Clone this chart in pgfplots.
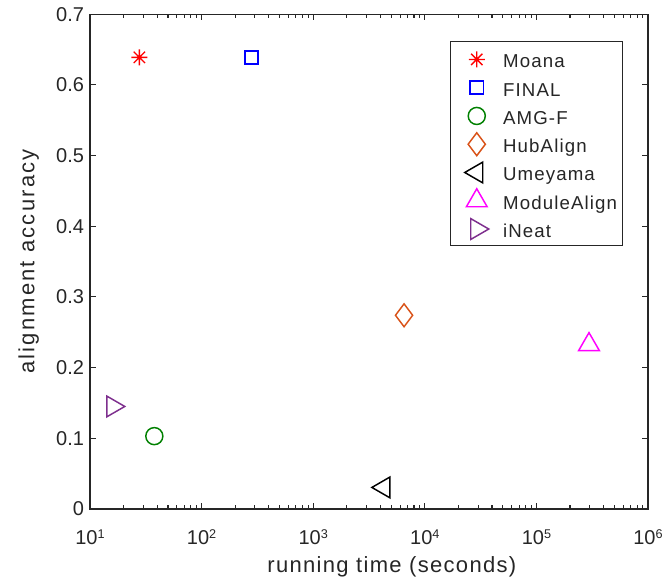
\documentclass[border=0pt]{standalone}
\usepackage{fontspec}
\setmainfont{Liberation Sans}
\newfontfamily\xlabfont[LetterSpace=6]{Liberation Sans}
\newfontfamily\ylabfont[LetterSpace=10]{Liberation Sans}
\newfontfamily\legfont[LetterSpace=6]{Liberation Sans}
\usepackage{pgfplots}
\pgfplotsset{compat=1.18}
\usetikzlibrary{calc}

\definecolor{hubc}{rgb}{0.85,0.325,0.098}
\definecolor{ineatc}{rgb}{0.494,0.184,0.556}
\definecolor{amgc}{rgb}{0,0.5,0}
\definecolor{modc}{rgb}{1,0,1}
\definecolor{axc}{rgb}{0.15,0.15,0.15}

% MATLAB-like asterisk with eight rays
\pgfdeclareplotmark{star8}{%
  \pgfpathmoveto{\pgfpoint{0pt}{\pgfplotmarksize}}\pgfpathlineto{\pgfpoint{0pt}{-\pgfplotmarksize}}%
  \pgfpathmoveto{\pgfpoint{\pgfplotmarksize}{0pt}}\pgfpathlineto{\pgfpoint{-\pgfplotmarksize}{0pt}}%
  \pgfpathmoveto{\pgfpoint{0.707\pgfplotmarksize}{0.707\pgfplotmarksize}}\pgfpathlineto{\pgfpoint{-0.707\pgfplotmarksize}{-0.707\pgfplotmarksize}}%
  \pgfpathmoveto{\pgfpoint{0.707\pgfplotmarksize}{-0.707\pgfplotmarksize}}\pgfpathlineto{\pgfpoint{-0.707\pgfplotmarksize}{0.707\pgfplotmarksize}}%
  \pgfusepathqstroke}

\newcommand{\ex}[1]{10\raisebox{5pt}{\fontsize{9.5}{10}\selectfont #1}}
\newcommand{\leg}[1]{\rule{0pt}{14pt}\smash{#1}}

\begin{document}
\begin{tikzpicture}
\begin{axis}[
    name=ax,
    xmode=log,
    scale only axis,
    width=418.5pt, height=371pt,
    xmin=10, xmax=1e6, ymin=0, ymax=0.7,
    xtick={10,100,1000,10000,100000,1000000},
    xticklabels={\ex{1},\ex{2},\ex{3},\ex{4},\ex{5},\ex{6}},
    minor xtick={20,30,40,50,60,70,80,90,
      200,300,400,500,600,700,800,900,
      2000,3000,4000,5000,6000,7000,8000,9000,
      20000,30000,40000,50000,60000,70000,80000,90000,
      200000,300000,400000,500000,600000,700000,800000,900000},
    ytick={0,0.1,0.2,0.3,0.4,0.5,0.6,0.7},
    yticklabels={0,0.1,0.2,0.3,0.4,0.5,0.6,0.7},
    axis line style={axc, line width=0.9pt},
    tick style={axc, line width=0.8pt},
    major tick length=4.5pt, minor tick length=2.8pt,
    tick label style={font=\fontsize{15}{18}\selectfont, text=axc},
    xticklabel style={anchor=base, yshift=-27pt},
    yticklabel style={xshift=-1pt},
    xlabel={\xlabfont running time (seconds)},
    ylabel={\ylabfont alignment accuracy},
    label style={font=\fontsize{16.5}{20}\selectfont, text=axc},
    xlabel style={at={(axis description cs:0.541,-0.1294)}, anchor=base},
    ylabel style={at={(axis description cs:-0.11,0.5)}, anchor=center, rotate=0},
    legend cell align=left,
    legend image code/.code={%
      \path[use as bounding box, draw=none, fill=none] (-16pt,-5pt) rectangle (10pt,9pt);
      \draw[#1] plot coordinates {(0pt,0pt)};},
    legend style={at={(0.955,0.9467)}, anchor=north east,
      font=\fontsize{14}{16}\selectfont\legfont, text=axc,
      draw=axc, line width=0.8pt, fill=white,
      inner xsep=4pt, inner ysep=4.7pt,
      nodes={inner sep=0pt},
      column sep=9.75pt, row sep=4.45pt},
  ]
  \addplot[only marks, red, mark=star8, mark size=6pt, line width=1pt]
    coordinates {(27.7,0.639)};
  \addlegendentry{\leg{Moana}}
  \addplot[only marks, blue, mark=square, mark size=4.9pt, line width=1.1pt]
    coordinates {(279,0.639)};
  \addlegendentry{\leg{FINAL}}
  \addplot[only marks, amgc, mark=o, mark size=6.4pt, line width=1.1pt]
    coordinates {(37.7,0.103)};
  \addlegendentry{\leg{AMG-F}}
  \addplot[only marks, hubc, mark=diamond, mark size=8.6pt, line width=1.1pt]
    coordinates {(6520,0.274)};
  \addlegendentry{\leg{HubAlign}}
  \addplot[only marks, black, mark=triangle, mark size=9pt, line width=1.1pt,
    mark options={rotate=90}]
    coordinates {(4300,0.0304)};
  \addlegendentry{\leg{Umeyama}}
  \addplot[only marks, modc, mark=triangle, mark size=9pt, line width=1.1pt]
    coordinates {(296000,0.2325)};
  \addlegendentry{\leg{ModuleAlign}}
  \addplot[only marks, ineatc, mark=triangle, mark size=9pt, line width=1.1pt,
    mark options={rotate=-90}]
    coordinates {(16.0,0.145)};
  \addlegendentry{\leg{iNeat}}
\end{axis}
\pgfresetboundingbox
\path ($(ax.south west)+(-67.5pt,-53.25pt)$) rectangle ($(ax.north east)+(18pt,10.7pt)$);
\end{tikzpicture}
\end{document}
